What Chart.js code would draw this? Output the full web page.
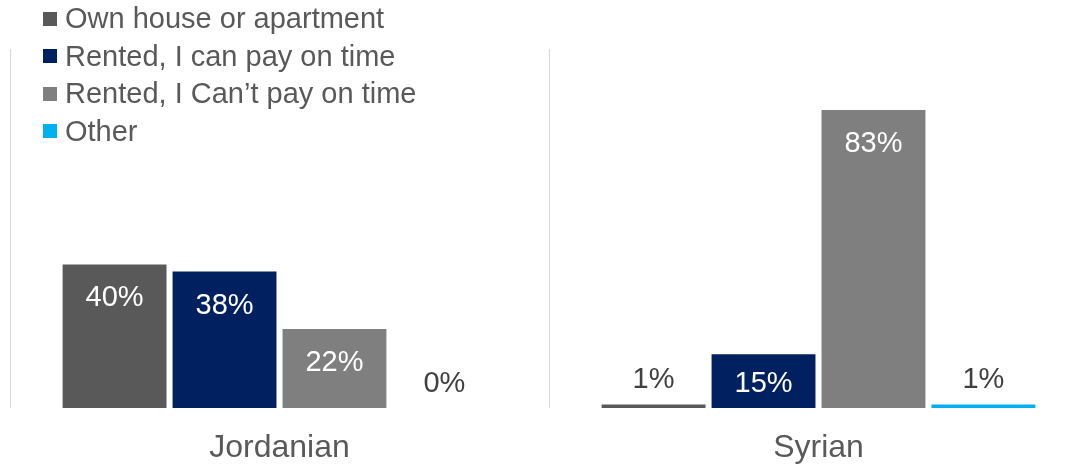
<!DOCTYPE html>
<html>
<head>
<meta charset="utf-8">
<script src="https://cdn.jsdelivr.net/npm/chart.js@4/dist/chart.umd.min.js"></script>
<style>
  html, body { margin: 0; padding: 0; background: #fff; overflow: hidden; }
  #wrap { position: relative; width: 1088px; height: 466px; }
  #legend { position: absolute; left: 43px; top: 0; font-family: "Liberation Sans", Arial, sans-serif; font-size: 29px; color: #595959; }
  #legend .item { height: 37.5px; display: flex; align-items: center; white-space: nowrap; }
  #legend .box { width: 14px; height: 14px; margin-right: 8px; }
</style>
</head>
<body>
<div id="wrap">
  <canvas id="chart"></canvas>
  <div id="legend"></div>
</div>
<script>
const categories = ["Jordanian", "Syrian"];
const seriesNames = ["Own house or apartment", "Rented, I can pay on time", "Rented, I Can\u2019t pay on time", "Other"];
const ownHouse = [40, 1];
const rentedCanPay = [38, 15];
const rentedCantPay = [22, 83];
const other = [0, 1];
const colors = ["#595959", "#002060", "#7f7f7f", "#00b0f0"];

const values = [ownHouse, rentedCanPay, rentedCantPay, other];

// legend sits over the top-left of the plot, so it's plain HTML
const legendEl = document.getElementById("legend");
seriesNames.forEach((name, i) => {
    const row = document.createElement("div");
    row.className = "item";
    row.innerHTML = `<span class="box" style="background:${colors[i]}"></span><span>${name}</span>`;
    legendEl.appendChild(row);
});

// percentage labels: white inside tall bars, dark above short ones
const barLabels = {
    id: "barLabels",
    afterDatasetsDraw(chart) {
        const ctx = chart.ctx;
        ctx.save();
        ctx.font = '29px "Liberation Sans", Arial, sans-serif';
        ctx.textAlign = "center";
        ctx.textBaseline = "middle";
        chart.data.datasets.forEach((ds, di) => {
            chart.getDatasetMeta(di).data.forEach((bar, i) => {
                const v = ds.data[i];
                if (v >= 10) {
                    ctx.fillStyle = "#ffffff";
                    ctx.fillText(v + "%", bar.x, Math.min(bar.y + 34, bar.base - 24));
                } else {
                    ctx.fillStyle = "#404040";
                    ctx.fillText(v + "%", bar.x, bar.y - 24);
                }
            });
        });
        ctx.restore();
    }
};

new Chart(document.getElementById("chart"), {
    type: "bar",
    data: {
        labels: categories,
        datasets: seriesNames.map((name, i) => ({
            label: name,
            data: values[i],
            backgroundColor: colors[i],
            borderWidth: 0,
            categoryPercentage: 0.816,
            barPercentage: 0.945
        }))
    },
    options: {
        responsive: true,
        maintainAspectRatio: false,
        animation: false,
        layout: { padding: { left: 10, right: 0, top: 49, bottom: 0 } },
        plugins: { legend: { display: false }, tooltip: { enabled: false } },
        scales: {
            x: {
                grid: { display: true, drawTicks: false, color: "#d9d9d9", lineWidth: 1 },
                border: { display: false },
                ticks: {
                    padding: 21,
                    color: "#595959",
                    font: { family: '"Liberation Sans", Arial, sans-serif', size: 32 }
                },
                afterFit(axis) { axis.height = 58; }
            },
            y: {
                display: false,
                min: 0,
                max: 100
            }
        }
    },
    plugins: [barLabels]
});
</script>
</body>
</html>
